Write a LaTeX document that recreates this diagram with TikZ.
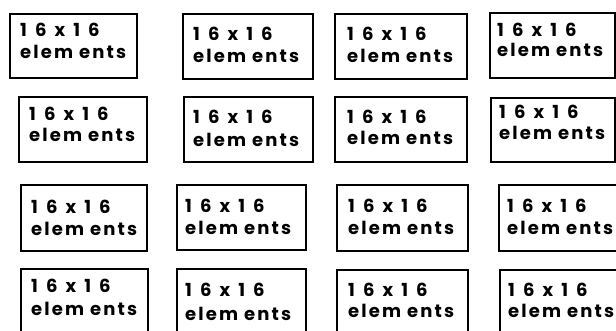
\documentclass[tikz,border=0pt]{standalone}
\usepackage{fontspec}
\newfontfamily\topfont[LetterSpace=45]{Poppins}
\newfontfamily\botfont[LetterSpace=12]{Poppins}
\begin{document}
\begin{tikzpicture}[x=1pt,y=-1pt,
  cell/.style={draw=black, line width=1.6pt, rectangle, inner sep=0pt, outer sep=0pt, anchor=north west},
  lblA/.style={anchor=base west, inner sep=0pt, font=\topfont\bfseries\fontsize{18}{21}\selectfont},
  lblB/.style={anchor=base west, inner sep=0pt, font=\botfont\bfseries\fontsize{18}{21}\selectfont}]
\useasboundingbox (0,0) rectangle (616,331);
\clip (0,0) rectangle (616,331);
\foreach \n/\xa/\ya/\xb/\yb/\tx/\ba/\bb in {
  11/10/14/137/78/20/37/59,
  12/183/14/313/79/193/41/63,
  13/335/14/467/79/347/41/63,
  14/490/13/615/78/497/37/57,
  21/19/97/147/162/29/121/142,
  22/184/97/313/162/193/124/147,
  23/335/97/467/162/347/124/145,
  24/491/98/615/162/499/119/140,
  31/21/185/147/251/31/214/236,
  32/177/185/306/250/185/213/235,
  33/337/185/468/251/348/213/235,
  34/499/185/620/251/507/213/235,
  41/21/269/148/345/31/293/315,
  42/177/269/306/345/185/297/320,
  43/337/270/468/345/348/297/317,
  44/500/270/620/345/508/297/317}{
  \node[cell, minimum width={\xb pt-\xa pt}, minimum height={\yb pt-\ya pt}] (b\n) at (\xa,\ya) {};
  \node[lblA] (t\n a) at (\tx,\ba) {16x16};
  \node[lblB] (t\n b) at (\tx,\bb) {elem ents};
}
\end{tikzpicture}
\end{document}
